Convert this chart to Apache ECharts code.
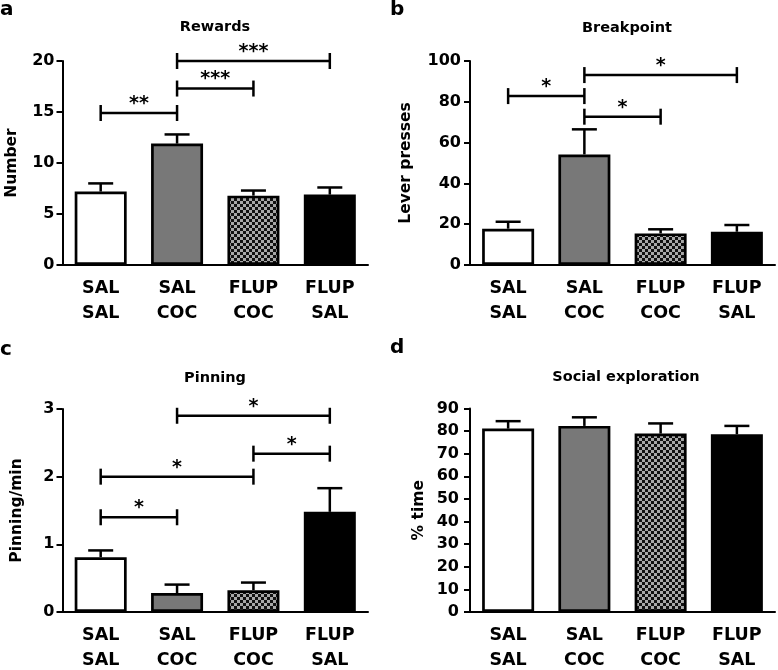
<!DOCTYPE html>
<html>
<head>
<meta charset="utf-8">
<script src="https://cdn.jsdelivr.net/npm/echarts@6/dist/echarts.min.js"></script>
<style>
html,body{margin:0;padding:0;background:#fff;}
#chart{width:778px;height:670px;}
</style>
</head>
<body>
<div id="chart"></div>
<script>
// ---- data ----
const categories = ['SAL\nSAL', 'SAL\nCOC', 'FLUP\nCOC', 'FLUP\nSAL'];

const rewardsMean = [7.2, 11.9, 6.8, 6.9];
const rewardsSem  = [0.8, 0.9, 0.5, 0.7];
const rewardsTicks = [0, 5, 10, 15, 20];
const rewardsSig = [[0, 1, 14.9], [1, 2, 17.3], [1, 3, 20.0]];
const rewardsSigLabel = ['**', '***', '***'];

const breakpointMean = [17.8, 54.2, 15.5, 16.3];
const breakpointSem  = [3.4, 12.3, 2.0, 3.3];
const breakpointTicks = [0, 20, 40, 60, 80, 100];
const breakpointSig = [[0, 1, 82.8], [1, 2, 72.7], [1, 3, 93.1]];
const breakpointSigLabel = ['*', '*', '*'];

const pinningMean = [0.81, 0.28, 0.32, 1.48];
const pinningSem  = [0.10, 0.125, 0.115, 0.35];
const pinningTicks = [0, 1, 2, 3];
const pinningSig = [[0, 1, 1.40], [0, 2, 2.0], [2, 3, 2.34], [1, 3, 2.90]];
const pinningSigLabel = ['*', '*', '*', '*'];

const socialMean = [81.1, 82.3, 78.9, 78.6];
const socialSem  = [3.3, 3.8, 4.5, 3.7];
const socialTicks = [0, 10, 20, 30, 40, 50, 60, 70, 80, 90];
const socialSig = [];
const socialSigLabel = [];

// ---- styling ----
const FONT = 'DejaVu Sans';
function checker() {
  const c = document.createElement('canvas');
  c.width = 6; c.height = 6;
  const g = c.getContext('2d');
  g.fillStyle = '#a8a8a8'; g.fillRect(0, 0, 6, 6);
  g.fillStyle = '#111'; g.fillRect(0, 0, 3, 3); g.fillRect(3, 3, 3, 3);
  return c;
}
const barFills = ['#ffffff', '#787878', { image: checker(), repeat: 'repeat' }, '#000000'];

const panels = [
  { title: 'Rewards', yName: 'Number', mean: rewardsMean, sem: rewardsSem, ticks: rewardsTicks,
    sig: rewardsSig, sigLabel: rewardsSigLabel,
    grid: { left: 62.5, top: 61, width: 305.5, height: 204 }, nameGap: 43, labelMargin: 8,
    letter: 'a', letterPos: [0, 12], titlePos: [215, 27] },
  { title: 'Breakpoint', yName: 'Lever presses', mean: breakpointMean, sem: breakpointSem, ticks: breakpointTicks,
    sig: breakpointSig, sigLabel: breakpointSigLabel,
    grid: { left: 470, top: 61, width: 305, height: 204 }, nameGap: 56, labelMargin: 9,
    letter: 'b', letterPos: [390, 12], titlePos: [627, 28] },
  { title: 'Pinning', yName: 'Pinning/min', mean: pinningMean, sem: pinningSem, ticks: pinningTicks,
    sig: pinningSig, sigLabel: pinningSigLabel,
    grid: { left: 62.5, top: 409, width: 305.5, height: 203 }, nameGap: 38, labelMargin: 8,
    letter: 'c', letterPos: [0, 352], titlePos: [215, 378] },
  { title: 'Social exploration', yName: '% time', mean: socialMean, sem: socialSem, ticks: socialTicks,
    sig: socialSig, sigLabel: socialSigLabel,
    grid: { left: 470, top: 408.5, width: 305, height: 203.5 }, nameGap: 43, labelMargin: 11,
    letter: 'd', letterPos: [390, 350], titlePos: [626, 377] }
];

const grids = [], xAxes = [], yAxes = [], series = [], graphics = [];

panels.forEach((p, i) => {
  grids.push(Object.assign({ outerBoundsMode: 'none', containLabel: false }, p.grid));
  xAxes.push({
    type: 'category', gridIndex: i, data: categories,
    axisLine: { lineStyle: { color: '#000', width: 2 } },
    axisTick: { alignWithLabel: true, length: 6, lineStyle: { color: '#000', width: 2 } },
    axisLabel: { interval: 0, margin: 10.5, color: '#000', fontFamily: FONT, fontWeight: 'bold',
                 fontSize: 17.5, lineHeight: 25 },
    splitLine: { show: false }
  });
  const interval = p.ticks[1] - p.ticks[0];
  yAxes.push({
    type: 'value', gridIndex: i, min: p.ticks[0], max: p.ticks[p.ticks.length - 1], interval: interval,
    name: p.yName, nameLocation: 'middle', nameGap: p.nameGap, nameRotate: 90,
    nameTextStyle: { color: '#000', fontFamily: FONT, fontWeight: 'bold', fontSize: 15.5 },
    axisLine: { show: true, lineStyle: { color: '#000', width: 2 } },
    axisTick: { show: true, length: 6, lineStyle: { color: '#000', width: 2 } },
    axisLabel: { margin: p.labelMargin, color: '#000', fontFamily: FONT, fontWeight: 'bold', fontSize: 16 },
    splitLine: { show: false }
  });
  series.push({
    type: 'bar', xAxisIndex: i, yAxisIndex: i, barWidth: 52, z: 2,
    data: p.mean.map((v, k) => ({ value: v, itemStyle: { color: barFills[k] } })),
    itemStyle: { borderColor: '#000', borderWidth: 2.7 },
    emphasis: { disabled: true }, animation: false
  });
  // error bars (upper only)
  series.push({
    type: 'custom', xAxisIndex: i, yAxisIndex: i, z: 3, animation: false, silent: true,
    data: p.mean.map((v, k) => [k, v, v + p.sem[k]]),
    encode: { x: 0, y: [1, 2] },
    renderItem: (params, api) => {
      const lo = api.coord([api.value(0), api.value(1)]);
      const hi = api.coord([api.value(0), api.value(2)]);
      const hw = 12.5;
      return {
        type: 'group', children: [
          { type: 'line', shape: { x1: lo[0], y1: lo[1], x2: hi[0], y2: hi[1] }, style: { stroke: '#000', lineWidth: 2.5 } },
          { type: 'line', shape: { x1: hi[0] - hw, y1: hi[1], x2: hi[0] + hw, y2: hi[1] }, style: { stroke: '#000', lineWidth: 2.5 } }
        ]
      };
    }
  });
  if (p.sig.length) {
    const labels = p.sigLabel;
    series.push({
      type: 'custom', xAxisIndex: i, yAxisIndex: i, z: 4, animation: false, silent: true, clip: false,
      data: p.sig,
      encode: { x: [0, 1], y: 2 },
      renderItem: (params, api) => {
        const a = api.coord([api.value(0), api.value(2)]);
        const b = api.coord([api.value(1), api.value(2)]);
        const h = 8;
        const st = { stroke: '#000', lineWidth: 2.5 };
        return {
          type: 'group', children: [
            { type: 'line', shape: { x1: a[0], y1: a[1], x2: b[0], y2: b[1] }, style: st },
            { type: 'line', shape: { x1: a[0], y1: a[1] - h, x2: a[0], y2: a[1] + h }, style: st },
            { type: 'line', shape: { x1: b[0], y1: b[1] - h, x2: b[0], y2: b[1] + h }, style: st },
            { type: 'text', x: (a[0] + b[0]) / 2, y: a[1] - 9,
              style: { text: labels[params.dataIndex], fill: '#000', font: 'bold 19px "DejaVu Sans"',
                       align: 'center', verticalAlign: 'middle' } }
          ]
        };
      }
    });
  }
  graphics.push({ type: 'text', left: p.letterPos[0], top: p.letterPos[1] - 12,
    style: { text: p.letter, fill: '#000', font: 'bold 20px "DejaVu Sans"' } });
  graphics.push({ type: 'text', x: p.titlePos[0], y: p.titlePos[1],
    style: { text: p.title, fill: '#000', font: 'bold 14.5px "DejaVu Sans"', align: 'center', verticalAlign: 'middle' } });
});

const chart = echarts.init(document.getElementById('chart'), null, { renderer: 'canvas' });
chart.setOption({
  animation: false,
  backgroundColor: '#fff',
  grid: grids, xAxis: xAxes, yAxis: yAxes, series: series, graphic: graphics
});
</script>
</body>
</html>
